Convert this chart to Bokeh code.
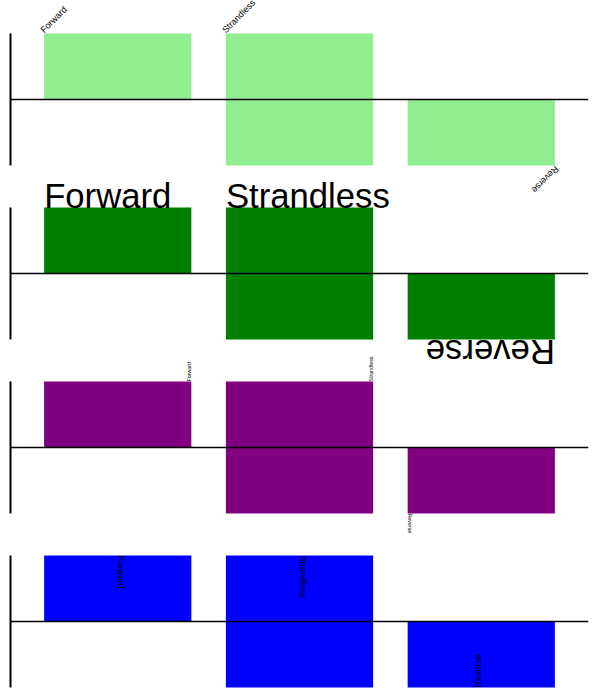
import math
from bokeh.plotting import figure
from bokeh.models import (FactorRange, Range1d, LinearAxis, Span, LabelSet,
                          ColumnDataSource, FixedTicker)
from bokeh.transform import dodge
from bokeh.core.properties import value
from bokeh.embed import file_html
from bokeh.resources import INLINE

# ---- data ----
categories = ["Forward", "Strandless", "Reverse"]
bar_tops = [1, 1, 0]
bar_bottoms = [0, -1, -1]

# ---- panel styles ----
panel_colors = ["lightgreen", "green", "purple", "blue"]
label_angles_deg = [45, 0, 90, -90]
label_font_sizes = ["9px", "34.7px", "5.3px", "9px"]
label_sides = [-1, -1, 1, 0]  # anchor for upward bars: -1 left edge, 1 right edge, 0 centre

BAR_W = 0.81
PANEL_H = 132      # px for the -1..1 span of one panel
PANEL_STEP = 174   # px from one panel's top to the next
FIRST_TOP = 33     # px from frame top to first panel's top
N = len(panel_colors)
FRAME_H = 700

def panel_range(k):
    end = 1 + (FIRST_TOP + PANEL_STEP * k) * 2 / PANEL_H
    return Range1d(end - FRAME_H * 2 / PANEL_H, end)

ranges = [panel_range(k) for k in range(N)]
names = ["default"] + [f"p{k}" for k in range(1, N)]

p = figure(width=600, height=FRAME_H,
           x_range=FactorRange(*categories, range_padding=0.09,
                               range_padding_units="absolute"),
           y_range=ranges[0], x_axis_type=None, y_axis_type=None,
           output_backend="svg", toolbar_location=None,
           min_border_left=10, min_border_right=12,
           min_border_top=0, min_border_bottom=0)
p.extra_y_ranges = {names[k]: ranges[k] for k in range(1, N)}
p.outline_line_color = None
p.background_fill_color = "white"
p.border_fill_color = "white"

bars = ColumnDataSource(dict(cat=categories, top=bar_tops, bottom=bar_bottoms))

for k in range(N):
    rn = names[k]
    color = panel_colors[k]
    p.vbar(x="cat", top="top", bottom="bottom", width=BAR_W, source=bars,
           fill_color=color, line_color=None, y_range_name=rn)

    ax = LinearAxis(y_range_name=rn, bounds=(-1, 1), ticker=FixedTicker(ticks=[]),
                    major_tick_out=0, major_tick_in=0, minor_tick_out=0, minor_tick_in=0,
                    major_label_text_font_size="0px", major_label_standoff=0,
                    axis_line_width=2, axis_line_color="black")
    p.add_layout(ax, "left")

    p.add_layout(Span(location=0, dimension="width", y_range_name=rn,
                      line_color="black", line_width=1.5))

    theta = math.radians(label_angles_deg[k])
    s = label_sides[k]
    up = dict(cat=[], y=[], text=[])
    down = dict(cat=[], y=[], text=[])
    for c, t, b in zip(categories, bar_tops, bar_bottoms):
        if t > 0:
            up["cat"].append(c); up["y"].append(t); up["text"].append(c)
        else:
            down["cat"].append(c); down["y"].append(b); down["text"].append(c)
    for d, side, ang in ((up, s, theta), (down, -s, theta + math.pi)):
        if not d["cat"]:
            continue
        lab = LabelSet(x=dodge("cat", side * BAR_W / 2, range=p.x_range), y="y",
                       text="text", source=ColumnDataSource(d), y_range_name=rn,
                       angle=ang, angle_units="rad",
                       text_align="left", text_baseline="alphabetic",
                       text_font=value("Liberation Sans"),
                       text_font_size=label_font_sizes[k], text_color="black")
        p.add_layout(lab)

open("out.html", "w").write(file_html(p, INLINE))
